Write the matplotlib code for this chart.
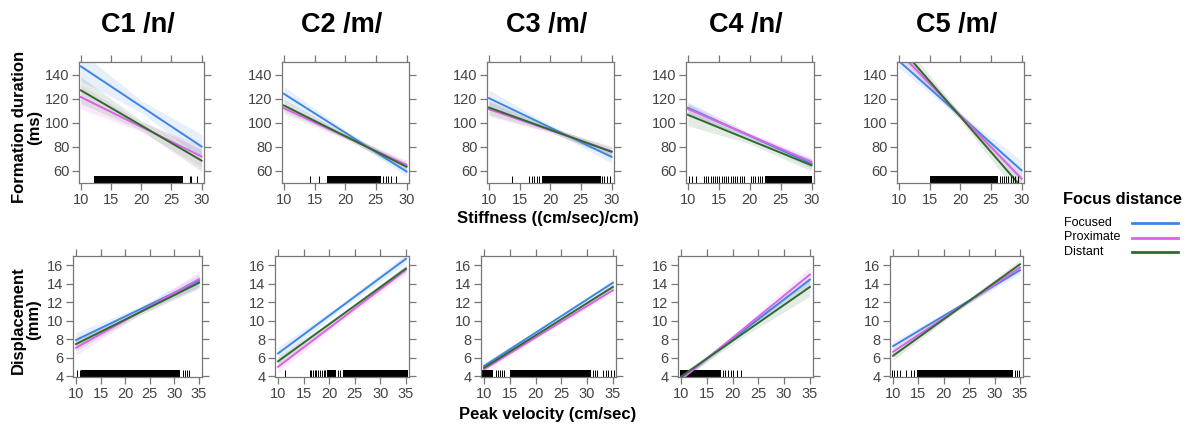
import numpy as np
import matplotlib
matplotlib.use("Agg")
import matplotlib.pyplot as plt

plt.rcParams["font.family"] = ["Liberation Sans", "DejaVu Sans"]

titles = ["C1 /n/", "C2 /m/", "C3 /m/", "C4 /n/", "C5 /m/"]
groups = ["Focused", "Proximate", "Distant"]
colors = ["#3f86e4", "#dc62e6", "#2f6a2f"]

# top row: formation duration vs stiffness, x = 10 .. 30
top_x = [10, 20, 30]
top_start = np.array([[146.9, 121.4, 127.0],
                      [124.1, 112.1, 114.4],
                      [120.5, 111.3, 112.7],
                      [112.5, 111.6, 106.6],
                      [151.4, 159.0, 164.0]])
top_end = np.array([[80.3, 72.0, 68.6],
                    [59.5, 65.0, 63.5],
                    [71.7, 76.4, 75.9],
                    [66.0, 67.5, 64.7],
                    [60.5, 53.6, 46.5]])
# CI half widths at x = 10, 20, 30
top_ci = np.array([[[12, 5, 10], [10, 4, 9], [11, 4, 9]],
                   [[6, 2, 4], [5, 2, 4], [5, 2, 4]],
                   [[7, 2, 5], [6, 2, 4], [6, 2, 4]],
                   [[5, 2, 4], [5, 2, 4], [9, 3, 5]],
                   [[6, 2, 8], [6, 2, 7], [7, 3, 9]]])

# bottom row: displacement vs peak velocity, x = 10 .. 35
bot_x = [10, 22.5, 35]
bot_start = np.array([[7.9, 7.06, 7.46],
                      [6.45, 5.0, 5.6],
                      [5.1, 4.75, 4.9],
                      [3.75, 3.6, 3.95],
                      [7.24, 6.63, 6.2]])
bot_end = np.array([[14.3, 14.5, 14.1],
                    [16.7, 15.5, 15.64],
                    [14.1, 13.3, 13.65],
                    [14.45, 15.0, 13.65],
                    [15.46, 15.75, 16.1]])
bot_ci = np.array([[[0.8, 0.3, 0.7], [0.8, 0.3, 0.8], [0.7, 0.3, 0.6]],
                   [[0.7, 0.3, 0.5], [0.6, 0.3, 0.5], [0.5, 0.2, 0.4]],
                   [[0.3, 0.15, 0.35], [0.3, 0.15, 0.35], [0.3, 0.15, 0.3]],
                   [[0.3, 0.3, 0.6], [0.3, 0.3, 0.8], [0.3, 0.4, 1.0]],
                   [[0.5, 0.2, 0.4], [0.5, 0.2, 0.4], [0.5, 0.2, 0.5]]])

# rugs: solid dense spans and single ticks
top_rug_dense = [[(12.2, 26.9)],
                 [(17.1, 25.8)],
                 [(18.6, 28.2)],
                 [(22.5, 30.0)],
                 [(15.1, 26.2)]]
top_rug_ticks = [[28.0, 28.3, 29.2],
                 [14.3, 15.7, 26.2, 26.6, 27.0, 27.5, 28.3],
                 [13.8, 16.6, 17.0, 17.3, 17.8, 18.2, 28.5, 28.8, 29.3, 29.7],
                 [10.2, 10.6, 11.3, 12.6, 13.0, 13.3, 13.7, 14.0, 14.4, 14.7,
                  15.1, 15.5, 15.8, 16.1, 16.5, 16.9, 17.3, 17.6, 18.0, 18.4,
                  18.7, 19.1, 20.2, 20.5, 20.9, 21.3, 21.6, 22.0],
                 [26.5, 26.8, 27.1, 27.5, 27.8, 28.2, 28.6, 29.0, 29.5]]
bot_rug_dense = [[(11.1, 31.2)],
                 [(19.5, 21.3), (22.6, 35.4)],
                 [(9.4, 11.8), (15.0, 30.7)],
                 [(9.7, 17.8)],
                 [(14.7, 33.7)]]
bot_rug_ticks = [[10.3, 10.8, 31.7, 32.1, 32.5, 33.0],
                 [11.4, 16.2, 16.5, 16.9, 17.2, 17.5, 17.8, 18.2, 18.5, 18.9,
                  19.2, 21.8, 22.2],
                 [12.3, 12.7, 13.1, 13.5, 13.9, 31.1, 31.5, 32.0, 33.0, 33.7,
                  34.1, 34.7, 35.3],
                 [18.2, 18.6, 19.1, 19.6, 20.1, 20.8, 21.7],
                 [9.7, 10.2, 10.7, 11.3, 12.6, 13.6, 14.1, 34.0, 34.4, 34.8]]

W, H = 1188, 424
fig = plt.figure(figsize=(W / 100, H / 100), dpi=100)

top_left = [79, 282, 487, 686, 897]
top_w = [125, 127, 127, 128, 127]
bot_left = [73, 275, 481, 678, 890]
bot_w = [129, 134, 135, 135, 133]


def add_axes(l, w, t, b):
    return fig.add_axes([l / W, 1 - b / H, w / W, (b - t) / H])


def style(ax, xt, yt):
    for s in ax.spines.values():
        s.set_color("#777777")
        s.set_linewidth(0.9)
    ax.set_xticks(xt)
    ax.set_yticks(yt)
    ax.tick_params(which="both", direction="out", length=5, width=0.9, color="#777777",
                   labelsize=10.5, labelcolor="#444444", top=True, right=True, pad=2)


def draw(ax, xs, start, end, ci, dense, ticks):
    for j in range(3):
        ys = np.array([start[j], (start[j] + end[j]) / 2, end[j]])
        hw = np.array(ci[j])
        ax.fill_between(xs, ys - hw, ys + hw, color=colors[j], alpha=0.13, lw=0)
    for j in [0, 1, 2]:
        ax.plot([xs[0], xs[-1]], [start[j], end[j]], color=colors[j], lw=1.4)
    tr = ax.get_xaxis_transform()
    for a, b in dense:
        ax.axvspan(a, b, ymin=0, ymax=0.06, color="black", lw=0)
    ax.vlines(ticks, 0, 0.06, transform=tr, color="black", lw=0.7)


for i in range(5):
    ax = add_axes(top_left[i], top_w[i], 62, 183)
    draw(ax, top_x, top_start[i], top_end[i], top_ci[i], top_rug_dense[i], top_rug_ticks[i])
    ax.set_xlim(9.7, 30.4)
    ax.set_ylim(50, 150.5)
    style(ax, [10, 15, 20, 25, 30], [60, 80, 100, 120, 140])
    fig.text((top_left[i] + top_w[i] / 2 - 4) / W, 1 - 25 / H, titles[i], ha="center", va="center",
             fontsize=19.5, fontweight="bold")

    ax = add_axes(bot_left[i], bot_w[i], 256, 377)
    draw(ax, bot_x, bot_start[i], bot_end[i], bot_ci[i], bot_rug_dense[i], bot_rug_ticks[i])
    ax.set_xlim(9.4, 35.6)
    ax.set_ylim(3.9, 17.0)
    style(ax, [10, 15, 20, 25, 30, 35], [4, 6, 8, 10, 12, 14, 16])

fig.text(27 / W, 1 - 127 / H, "Formation duration\n(ms)", rotation=90, ha="center", va="center",
         fontsize=12, fontweight="bold", linespacing=1.0)
fig.text(26 / W, 1 - 320 / H, "Displacement\n(mm)", rotation=90, ha="center", va="center",
         fontsize=12, fontweight="bold", linespacing=1.0)
fig.text(548 / W, 1 - 219 / H, "Stiffness ((cm/sec)/cm)", ha="center", va="center",
         fontsize=12, fontweight="bold")
fig.text(548 / W, 1 - 414 / H, "Peak velocity (cm/sec)", ha="center", va="center",
         fontsize=12, fontweight="bold")

# legend
fig.text(1063 / W, 1 - 200 / H, "Focus distance", ha="left", va="center",
         fontsize=11.8, fontweight="bold")
for j, g in enumerate(groups):
    y = 1 - (223 + 14.5 * j) / H
    fig.text(1064 / W, y, g, ha="left", va="center", fontsize=9)
    fig.add_artist(plt.Line2D([1132 / W, 1178 / W], [y, y], color=colors[j], lw=2))

fig.savefig("out.png", dpi=100)
